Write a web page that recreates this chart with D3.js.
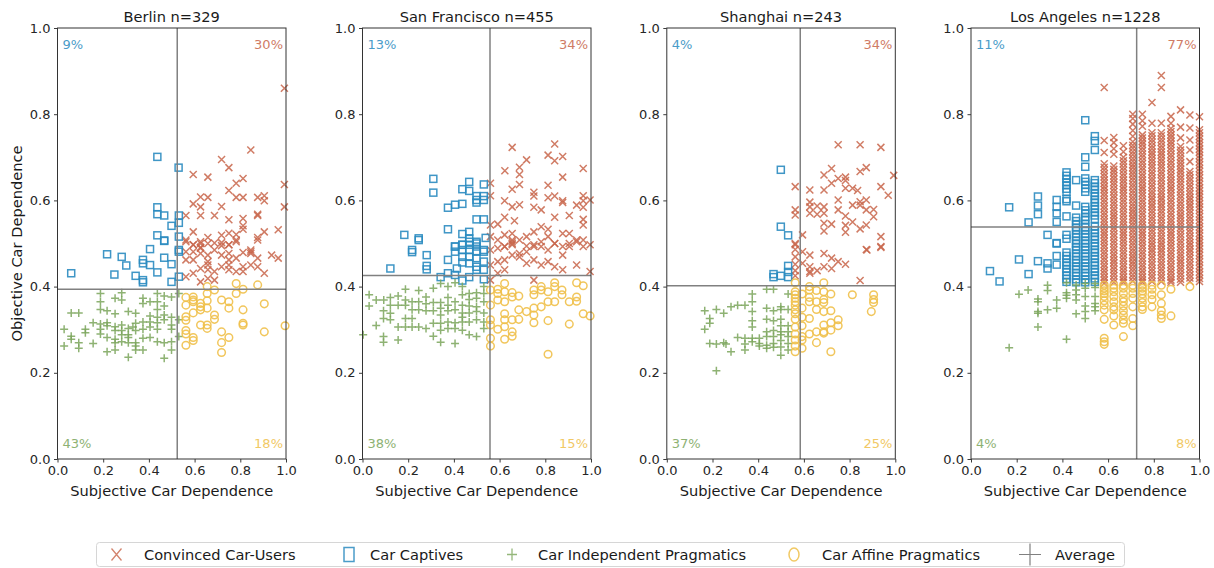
<!DOCTYPE html>
<html>
<head>
<meta charset="utf-8">
<script src="https://cdn.jsdelivr.net/npm/d3@7"></script>
<style>
  body { margin: 0; background: #fff; }
  svg { display: block; font-family: "DejaVu Sans", sans-serif; }
</style>
</head>
<body>
<svg id="chart" width="1214" height="568"></svg>
<script>
// ---- data ----
let cities = ["Berlin", "San Francisco", "Shanghai", "Los Angeles"];
let counts = [329, 455, 243, 1228];
let avgX = [0.524, 0.558, 0.584, 0.725];
let avgY = [0.394, 0.426, 0.402, 0.538];

let shareCaptives = ["9%", "13%", "4%", "11%"];
let shareUsers = ["30%", "34%", "34%", "77%"];
let shareIndependent = ["43%", "38%", "37%", "4%"];
let shareAffine = ["18%", "15%", "25%", "8%"];

let ticks = [0, 0.2, 0.4, 0.6, 0.8, 1.0];
let legendLabels = ["Convinced Car-Users", "Car Captives", "Car Independent Pragmatics", "Car Affine Pragmatics", "Average"];

// Berlin
let berlinUsers = [[.993,.860],[.846,.717],[.718,.695],[.750,.676],[.594,.660],[.658,.654],[.812,.651],[.782,.640],[.750,.623],[.993,.637],[.626,.608],[.658,.607],[.594,.592],[.626,.585],[.718,.586],[.782,.607],[.812,.607],[.876,.607],[.905,.611],[.905,.599],[.993,.585],[.562,.565],[.626,.565],[.687,.565],[.750,.555],[.812,.558],[.812,.541],[.876,.568],[.876,.565],[.812,.533],[.966,.532],[.905,.527],[.594,.527],[.750,.524],[.782,.521],[.718,.519],[.562,.508],[.658,.514],[.782,.508],[.876,.514],[.626,.500],[.687,.501],[.594,.497],[.626,.489],[.718,.495],[.750,.497],[.846,.485],
  [.562,.504],[.594,.497],[.626,.504],[.626,.491],[.658,.500],[.718,.502],[.750,.497],[.782,.504],[.846,.481],[.876,.508],[.562,.481],[.594,.481],[.626,.477],[.658,.473],[.658,.458],[.687,.485],[.718,.473],[.750,.477],[.750,.462],[.782,.466],[.812,.479],[.846,.477],[.876,.466],[.937,.473],[.966,.466],[.562,.462],[.594,.462],[.626,.442],[.658,.450],[.687,.435],[.718,.446],[.750,.450],[.782,.435],[.812,.446],[.846,.450],[.876,.446],[.905,.431],[.626,.411],[.658,.419],[.687,.415],[.562,.423],[.594,.431],[.750,.439],[.812,.435],[.658,.439]];
let berlinCaptives = [[.437,.701],[.530,.676],[.437,.584],[.437,.568],[.467,.565],[.531,.565],[.499,.541],[.531,.548],[.437,.519],[.467,.507],[.531,.516],[.405,.487],[.531,.485],[.467,.506],[.531,.481],[.217,.475],[.281,.469],[.374,.462],[.374,.454],[.301,.449],[.405,.450],[.467,.467],[.499,.452],[.060,.431],[.249,.428],[.342,.425],[.437,.433],[.374,.415],[.374,.410],[.499,.411],[.531,.423]];
let berlinIndependent = [[.188,.384],[.281,.386],[.281,.369],[.252,.373],[.374,.373],[.405,.365],[.437,.384],[.467,.378],[.499,.376],[.531,.384],[.437,.365],[.467,.355],[.437,.347],[.374,.361],[.188,.365],[.188,.347],[.217,.344],[.252,.337],[.310,.342],[.342,.338],[.060,.339],[.093,.339],[.029,.301],[.122,.301],[.122,.293],[.060,.285],[.093,.270],[.029,.262],[.060,.278],[.156,.316],[.188,.313],[.188,.301],[.217,.316],[.217,.309],[.252,.307],[.252,.298],[.281,.311],[.281,.298],[.310,.303],[.310,.282],[.330,.306],[.342,.315],[.342,.298],[.374,.318],[.374,.301],[.405,.332],[.405,.318],[.405,.306],[.437,.329],[.437,.316],[.437,.301],[.467,.334],[.467,.323],[.499,.329],[.499,.311],[.499,.301],[.531,.323],[.188,.290],[.217,.282],[.252,.278],[.252,.270],[.281,.272],[.310,.270],[.342,.270],[.342,.262],[.374,.280],[.405,.282],[.437,.272],[.467,.270],[.499,.272],[.531,.284],[.499,.253],[.467,.234],[.310,.236],[.342,.253],[.374,.253],[.217,.249],[.252,.253],[.156,.268],[.093,.257],[.310,.288],[.281,.288]];
let berlinAffine = [[.655,.400],[.687,.392],[.782,.407],[.812,.394],[.876,.404],[.562,.375],[.594,.376],[.594,.365],[.655,.384],[.655,.367],[.718,.369],[.750,.365],[.782,.384],[.562,.357],[.594,.339],[.626,.353],[.626,.346],[.655,.350],[.687,.334],[.687,.324],[.750,.350],[.812,.346],[.905,.360],[.562,.330],[.562,.322],[.626,.311],[.655,.311],[.655,.303],[.718,.295],[.750,.282],[.812,.315],[.812,.311],[.905,.295],[.996,.309],[.562,.298],[.562,.290],[.594,.282],[.594,.275],[.562,.264],[.718,.270],[.718,.247],[.594,.369],[.626,.361]];

// San Francisco
let sfUsers = [[.841,.731],[.655,.723],[.812,.705],[.841,.692],[.876,.702],[.718,.694],[.687,.677],[.623,.669],[.687,.660],[.966,.674],[.876,.654],[.812,.635],[.687,.637],[.655,.626],[.560,.640],[.560,.611],[.750,.619],[.750,.610],[.812,.606],[.841,.610],[.876,.599],[.876,.595],[.622,.599],[.655,.585],[.687,.590],[.750,.584],[.782,.578],[.966,.611],[.966,.599],[.937,.589],[.966,.584],[.996,.601],[.905,.565],[.841,.561],[.622,.561],[.665,.553],[.560,.543],[.592,.545],[.966,.556],[.966,.543],[.782,.539],[.812,.533],[.750,.527],[.876,.523],[.905,.523],[.937,.508],[.966,.508],[.622,.520],[.655,.523],[.655,.508],[.592,.508],[.560,.516],[.718,.516],[.687,.508],[.782,.504],[.812,.516],[.841,.500],[.876,.493],[.905,.500],[.996,.497],[.622,.493],[.655,.497],[.718,.494],[.750,.493],
  [.560,.485],[.592,.489],[.622,.493],[.655,.500],[.687,.477],[.718,.481],[.750,.497],[.782,.450],[.812,.485],[.841,.500],[.876,.473],[.905,.493],[.937,.450],[.966,.493],[.592,.458],[.622,.462],[.655,.473],[.687,.469],[.718,.454],[.750,.462],[.812,.458],[.841,.446],[.876,.439],[.560,.450],[.592,.431],[.622,.439],[.750,.415],[.560,.415],[.996,.435],[.655,.504],[.782,.493],[.937,.504]];
let sfCaptives = [[.310,.650],[.310,.618],[.467,.643],[.437,.626],[.467,.622],[.531,.637],[.499,.610],[.499,.601],[.531,.610],[.531,.601],[.499,.595],[.374,.583],[.405,.590],[.437,.592],[.499,.556],[.531,.556],[.374,.533],[.183,.520],[.246,.512],[.437,.522],[.467,.527],[.467,.512],[.499,.504],[.467,.497],[.499,.493],[.437,.497],[.405,.493],[.539,.513],[.217,.485],[.531,.485],
  [.246,.508],[.217,.480],[.281,.473],[.281,.448],[.281,.440],[.122,.442],[.374,.462],[.405,.493],[.405,.481],[.437,.497],[.437,.485],[.437,.469],[.437,.456],[.467,.504],[.467,.485],[.467,.469],[.467,.454],[.499,.500],[.499,.481],[.499,.466],[.499,.446],[.531,.481],[.531,.458],[.413,.442],[.374,.431],[.342,.422],[.405,.427],[.437,.414],[.467,.422],[.531,.417],[.499,.439],[.531,.439]];
let sfIndependent = [[.029,.381],[.029,.355],[.060,.369],[.093,.369],[.122,.375],[.122,.357],[.156,.378],[.156,.357],[.188,.394],[.188,.369],[.188,.357],[.217,.365],[.246,.391],[.246,.365],[.246,.346],[.278,.376],[.278,.360],[.278,.344],[.310,.396],[.310,.363],[.310,.344],[.342,.407],[.342,.363],[.342,.350],[.342,.334],[.374,.400],[.374,.375],[.374,.357],[.374,.344],[.405,.409],[.405,.365],[.405,.346],[.437,.400],[.437,.381],[.437,.357],[.437,.339],[.467,.384],[.467,.370],[.467,.355],[.467,.339],[.499,.386],[.499,.373],[.499,.353],[.499,.342],[.531,.400],[.531,.384],[.531,.365],[.531,.339],[.092,.344],[.092,.326],[.122,.323],[.156,.306],[.188,.326],[.217,.326],[.188,.306],[.217,.306],[.246,.306],[.278,.303],[.310,.315],[.342,.315],[.374,.318],[.374,.303],[.405,.316],[.437,.318],[.467,.318],[.499,.323],[.531,.318],[.060,.310],[.310,.285],[.342,.299],[.405,.303],[.437,.299],[.467,.288],[.499,.284],[.092,.284],[.092,.271],[.156,.276],[.342,.271],[.405,.268],[.003,.288],[.122,.338],[.217,.346],[.437,.329],[.531,.303]];
let sfAffine = [[.560,.392],[.592,.394],[.592,.369],[.622,.407],[.622,.388],[.622,.365],[.655,.386],[.684,.378],[.560,.357],[.560,.323],[.560,.311],[.560,.280],[.560,.262],[.592,.301],[.622,.337],[.622,.323],[.622,.307],[.622,.278],[.655,.323],[.655,.295],[.655,.285],[.684,.346],[.684,.324],[.718,.342],[.750,.392],[.750,.381],[.750,.350],[.750,.334],[.750,.316],[.782,.400],[.782,.392],[.782,.353],[.812,.388],[.812,.365],[.812,.321],[.841,.409],[.841,.400],[.841,.365],[.873,.392],[.873,.381],[.905,.365],[.905,.313],[.937,.409],[.937,.376],[.937,.366],[.966,.402],[.966,.337],[.996,.332],[.812,.243],[.592,.384],[.655,.376]];

// Shanghai
let shUsers = [[.750,.729],[.846,.729],[.937,.723],[.721,.674],[.688,.659],[.750,.651],[.782,.654],[.782,.646],[.846,.667],[.873,.676],[.993,.658],[.562,.632],[.626,.624],[.688,.624],[.721,.640],[.782,.628],[.813,.628],[.835,.623],[.937,.632],[.969,.612],[.626,.596],[.626,.585],[.658,.587],[.688,.585],[.626,.570],[.658,.568],[.688,.570],[.562,.578],[.562,.566],[.750,.601],[.750,.578],[.782,.564],[.813,.550],[.813,.589],[.846,.597],[.846,.589],[.873,.601],[.873,.578],[.905,.579],[.905,.562],[.688,.547],[.688,.529],[.721,.545],[.782,.542],[.782,.526],[.846,.534],[.873,.543],[.937,.516],[.937,.493],[.594,.520],[.562,.500],[.873,.486],
  [.562,.497],[.562,.486],[.562,.469],[.562,.452],[.562,.437],[.562,.425],[.594,.481],[.626,.473],[.626,.435],[.626,.446],[.658,.437],[.688,.477],[.688,.446],[.721,.466],[.721,.442],[.750,.458],[.782,.452],[.876,.485],[.937,.491],[.846,.414],[.594,.454],[.626,.431]];
let shCaptives = [[.499,.671],[.499,.539],[.531,.519],[.531,.448],[.531,.434],[.531,.422],[.499,.425],[.467,.429],[.467,.422]];
let shIndependent = [[.374,.383],[.437,.394],[.467,.394],[.531,.383],[.166,.344],[.217,.347],[.249,.338],[.281,.353],[.310,.357],[.342,.357],[.374,.365],[.374,.342],[.437,.350],[.467,.344],[.499,.353],[.499,.347],[.531,.347],[.188,.326],[.188,.315],[.166,.301],[.374,.321],[.374,.306],[.437,.324],[.467,.321],[.499,.324],[.499,.309],[.531,.309],[.467,.298],[.437,.295],[.499,.295],[.531,.295],[.310,.282],[.342,.280],[.374,.280],[.405,.280],[.437,.284],[.467,.284],[.499,.288],[.499,.275],[.531,.284],[.188,.268],[.217,.267],[.249,.270],[.259,.267],[.281,.249],[.342,.267],[.342,.253],[.374,.272],[.405,.268],[.405,.262],[.437,.264],[.437,.257],[.467,.268],[.467,.259],[.499,.260],[.499,.241],[.531,.268],[.531,.253],[.217,.205]];
let shAffine = [[.562,.409],[.562,.388],[.562,.381],[.562,.373],[.562,.365],[.562,.357],[.562,.346],[.562,.337],[.562,.324],[.562,.306],[.562,.290],[.562,.276],[.562,.262],[.562,.249],[.592,.383],[.592,.350],[.592,.329],[.592,.309],[.592,.276],[.592,.257],[.592,.284],[.624,.400],[.624,.392],[.624,.375],[.624,.365],[.624,.326],[.624,.290],[.655,.391],[.655,.365],[.655,.347],[.655,.295],[.655,.270],[.687,.409],[.687,.388],[.687,.370],[.687,.363],[.687,.342],[.687,.311],[.687,.295],[.687,.292],[.718,.383],[.718,.344],[.718,.316],[.718,.299],[.718,.249],[.750,.323],[.750,.309],[.812,.381],[.905,.381],[.905,.370],[.905,.363],[.895,.342]];

// Los Angeles (answers sit on a grid, so kept as columns: [x, [y values]])
let laUserCols = [
  [.583, [.862,.739,.711,.685,.677,.670,.662,.655,.647,.640,.632,.625,.617,.610,.602,.595,.587,.580,.572,.565,.557,.550,.542,.535,.527,.520,.512,.505,.497,.490,.482,.475,.467,.460,.452,.445,.437,.430,.422,.415,.408]],
  [.625, [.746,.734,.720,.707,.680,.672,.665,.657,.650,.642,.635,.627,.620,.612,.605,.597,.590,.582,.575,.567,.560,.552,.545,.537,.530,.522,.515,.507,.500,.492,.485,.477,.470,.462,.455,.447,.440,.432,.425,.417,.410]],
  [.667, [.727,.713,.700,.692,.685,.677,.670,.662,.655,.647,.640,.632,.625,.617,.610,.602,.595,.587,.580,.572,.565,.557,.550,.542,.535,.527,.520,.512,.505,.497,.490,.482,.475,.467,.460,.452,.445,.437,.430,.422,.415,.410]],
  [.708, [.800,.790,.777,.762,.749,.736,.728,.721,.713,.706,.698,.691,.683,.676,.668,.661,.653,.646,.638,.631,.623,.616,.608,.601,.593,.586,.578,.571,.563,.556,.548,.541,.533,.526,.518,.511,.503,.496,.488,.481,.473,.466,.458,.451,.443,.436,.428,.421,.413]],
  [.750, [.800,.785,.772,.752,.745,.737,.730,.722,.715,.707,.700,.692,.685,.677,.670,.662,.655,.647,.640,.632,.625,.617,.610,.602,.595,.587,.580,.572,.565,.557,.550,.542,.535,.527,.520,.512,.505,.497,.490,.482,.475,.467,.460,.452,.445,.437,.430,.422,.415,.410]],
  [.792, [.827,.779,.757,.750,.742,.735,.727,.720,.712,.705,.697,.690,.682,.675,.667,.660,.652,.645,.637,.630,.622,.615,.607,.600,.592,.585,.577,.570,.562,.555,.547,.540,.532,.525,.517,.510,.502,.495,.487,.480,.472,.465,.457,.450,.442,.435,.427,.420,.412]],
  [.833, [.890,.862,.779,.757,.750,.742,.735,.727,.720,.712,.705,.697,.690,.682,.675,.667,.660,.652,.645,.637,.630,.622,.615,.607,.600,.592,.585,.577,.570,.562,.555,.547,.540,.532,.525,.517,.510,.502,.495,.487,.480,.472,.465,.457,.450,.442,.435,.427,.420,.412]],
  [.875, [.795,.779,.767,.760,.752,.745,.737,.730,.722,.715,.707,.700,.692,.685,.677,.670,.662,.655,.647,.640,.632,.625,.617,.610,.602,.595,.587,.580,.572,.565,.557,.550,.542,.535,.527,.520,.512,.505,.497,.490,.482,.475,.467,.460,.452,.445,.437,.430,.422,.415,.410]],
  [.917, [.810,.770,.745,.725,.717,.710,.702,.695,.687,.680,.672,.665,.657,.650,.642,.635,.627,.620,.612,.605,.597,.590,.582,.575,.567,.560,.552,.545,.537,.530,.522,.515,.507,.500,.492,.485,.477,.470,.462,.455,.447,.440,.432,.425,.417,.410]],
  [.958, [.798,.768,.740,.717,.690,.667,.660,.652,.645,.637,.630,.622,.615,.607,.600,.592,.585,.577,.570,.562,.555,.547,.540,.532,.525,.517,.510,.502,.495,.487,.480,.472,.465,.457,.450,.442,.435,.427,.420,.412]],
  [1.0,  [.794,.764,.757,.749,.742,.734,.727,.719,.712,.704,.697,.689,.682,.674,.667,.659,.652,.644,.637,.629,.622,.614,.607,.599,.592,.584,.577,.569,.562,.554,.547,.539,.532,.524,.517,.509,.502,.494,.487,.479,.472,.464,.457,.449,.442,.434,.427,.419,.412]]
];
let laCaptiveCols = [
  [.083, [.436]], [.125, [.412]], [.167, [.584]], [.210, [.463]],
  [.252, [.549,.429]], [.293, [.609,.588,.568,.459]], [.335, [.520,.454,.442]],
  [.375, [.601,.585,.570,.550,.501,.500,.471,.451]],
  [.418, [.665,.657,.650,.642,.635,.627,.620,.603,.598,.563,.520,.511,.479,.471,.464,.456,.449,.441,.434,.426,.418,.411]],
  [.460, [.647,.588,.560,.552,.545,.537,.530,.522,.515,.507,.500,.492,.485,.477,.470,.462,.455,.447,.440,.432,.425,.417,.410]],
  [.500, [.786,.700,.678,.651,.643,.636,.628,.620,.585,.577,.570,.562,.555,.545,.537,.530,.522,.515,.507,.500,.492,.485,.477,.470,.462,.455,.447,.440,.432,.425,.417,.410]],
  [.542, [.749,.738,.717,.647,.640,.632,.625,.617,.610,.602,.595,.587,.580,.572,.565,.557,.539,.531,.524,.516,.509,.501,.494,.486,.479,.471,.464,.456,.449,.441,.434,.426,.419,.411]]
];
let laIndependentCols = [
  [.167, [.258]], [.210, [.382]], [.250, [.392]], [.293, [.371,.365,.342,.338,.306]],
  [.335, [.403,.391,.346]], [.375, [.369,.350]], [.418, [.409,.386,.380,.373,.278]],
  [.460, [.404,.392,.381,.369,.337]], [.500, [.407,.396,.377,.355,.342,.326]],
  [.543, [.407,.398,.377,.361,.353,.344]]
];
let laAffineCols = [
  [.583, [.403,.396,.390,.384,.377,.367,.357,.346,.324,.280,.272,.266]],
  [.625, [.403,.396,.388,.377,.365,.353,.346,.332,.311]],
  [.667, [.403,.396,.384,.373,.365,.355,.344,.334,.323,.315,.284]],
  [.708, [.403,.396,.384,.373,.353,.326,.309]],
  [.750, [.403,.396,.390,.383,.373,.363,.353,.347]],
  [.792, [.403,.394,.381,.370,.353]],
  [.833, [.403,.381,.361,.344,.334,.326]],
  [.875, [.394,.332]],
  [.958, [.400]]
];

// ---- setup ----
let cols = colList => colList.flatMap(c => c[1].map(v => [c[0], v]));

let usersByCity = [berlinUsers, sfUsers, shUsers, cols(laUserCols)];
let captivesByCity = [berlinCaptives, sfCaptives, shCaptives, cols(laCaptiveCols)];
let independentByCity = [berlinIndependent, sfIndependent, shIndependent, cols(laIndependentCols)];
let affineByCity = [berlinAffine, sfAffine, shAffine, cols(laAffineCols)];

let colUsers = "#c8654a";
let colCaptives = "#2a8bc0";
let colIndependent = "#7aa55a";
let colAffine = "#efc04a";
let colAvg = "#808080";

let panelLeft = [57.5, 362.5, 666.8, 971];
let panelW = 228.5;
let plotTop = 28, plotBottom = 459;

let svg = d3.select("#chart");

let xPath = "M-3.5,-3.5L3.5,3.5M-3.5,3.5L3.5,-3.5";
let plusPath = "M-4,0H4M0,-4V4";

let drawPanel = (i) => {
  let x = d3.scaleLinear().domain([0, 1]).range([panelLeft[i], panelLeft[i] + panelW]);
  let y = d3.scaleLinear().domain([0, 1]).range([plotBottom, plotTop]);
  let g = svg.append("g");

  // axes
  g.append("g")
    .attr("transform", `translate(0,${plotBottom})`)
    .call(d3.axisBottom(x).tickValues(ticks).tickFormat(d3.format(".1f")).tickSize(3.5).tickPadding(3.5))
    .call(a => a.select(".domain").remove());
  g.append("g")
    .attr("transform", `translate(${panelLeft[i]},0)`)
    .call(d3.axisLeft(y).tickValues(ticks).tickFormat(d3.format(".1f")).tickSize(3.5).tickPadding(3.5))
    .call(a => a.select(".domain").remove());
  g.selectAll(".tick text").attr("font-size", 13).attr("fill", "#262626").attr("font-family", "DejaVu Sans");
  g.selectAll(".tick line").attr("stroke", "#262626").attr("stroke-width", 0.9);

  // points
  g.append("g").selectAll("path").data(usersByCity[i]).enter().append("path")
    .attr("d", xPath)
    .attr("transform", d => `translate(${x(d[0])},${y(d[1])})`)
    .attr("stroke", colUsers).attr("stroke-width", 1.5).attr("fill", "none").attr("opacity", 0.85);
  g.append("g").selectAll("rect").data(captivesByCity[i]).enter().append("rect")
    .attr("x", d => x(d[0]) - 3.5).attr("y", d => y(d[1]) - 3.5)
    .attr("width", 7).attr("height", 7)
    .attr("stroke", colCaptives).attr("stroke-width", 1.5).attr("fill", "none").attr("opacity", 0.9);
  g.append("g").selectAll("path").data(independentByCity[i]).enter().append("path")
    .attr("d", plusPath)
    .attr("transform", d => `translate(${x(d[0])},${y(d[1])})`)
    .attr("stroke", colIndependent).attr("stroke-width", 1.5).attr("fill", "none").attr("opacity", 0.85);
  g.append("g").selectAll("circle").data(affineByCity[i]).enter().append("circle")
    .attr("cx", d => x(d[0])).attr("cy", d => y(d[1])).attr("r", 3.8)
    .attr("stroke", colAffine).attr("stroke-width", 1.5).attr("fill", "none").attr("opacity", 0.9);

  // average lines
  g.append("line")
    .attr("x1", x(avgX[i])).attr("x2", x(avgX[i])).attr("y1", y(0)).attr("y2", y(1))
    .attr("stroke", colAvg).attr("stroke-width", 1.5);
  g.append("line")
    .attr("x1", x(0)).attr("x2", x(1)).attr("y1", y(avgY[i])).attr("y2", y(avgY[i]))
    .attr("stroke", colAvg).attr("stroke-width", 1.5);

  // frame
  g.append("rect")
    .attr("x", x(0)).attr("y", y(1)).attr("width", x(1) - x(0)).attr("height", y(0) - y(1))
    .attr("fill", "none").attr("stroke", "#333").attr("stroke-width", 1);

  // quadrant shares
  let pct = (txt, px, py, anchor, color) => g.append("text")
    .attr("x", px).attr("y", py).attr("text-anchor", anchor).attr("dy", "0.35em")
    .attr("font-size", 13).attr("fill", color).attr("opacity", 0.85).text(txt);
  pct(shareCaptives[i], x(0) + 5, 44.5, "start", colCaptives);
  pct(shareUsers[i], x(1) - 3, 44.5, "end", colUsers);
  pct(shareIndependent[i], x(0) + 5, 443.5, "start", colIndependent);
  pct(shareAffine[i], x(1) - 3, 443.5, "end", colAffine);

  // titles and labels
  g.append("text").attr("x", (x(0) + x(1)) / 2).attr("y", 17).attr("dy", "0.35em")
    .attr("text-anchor", "middle").attr("font-size", 14.6).attr("fill", "#1a1a1a")
    .text(`${cities[i]} n=${counts[i]}`);
  g.append("text").attr("x", (x(0) + x(1)) / 2).attr("y", 490.5).attr("dy", "0.35em")
    .attr("text-anchor", "middle").attr("font-size", 14.6).attr("fill", "#1a1a1a")
    .text("Subjective Car Dependence");
};

[0, 1, 2, 3].forEach(drawPanel);

svg.append("text")
  .attr("transform", `translate(17,${(plotTop + plotBottom) / 2}) rotate(-90)`)
  .attr("dy", "0.35em").attr("text-anchor", "middle").attr("font-size", 14.6).attr("fill", "#1a1a1a")
  .text("Objective Car Dependence");

// legend
let legend = svg.append("g");
legend.append("rect")
  .attr("x", 96.5).attr("y", 542.5).attr("width", 1028).attr("height", 24).attr("rx", 3)
  .attr("fill", "#fff").attr("stroke", "#d6d6d6").attr("stroke-width", 1);
let legendMarkX = [116.5, 349, 512, 794, 1030];
let legendTextX = [144, 370, 538, 822, 1055];
let ly = 554.5;
legend.append("path").attr("d", "M-5,-6L5,6M-5,6L5,-6").attr("transform", `translate(${legendMarkX[0]},${ly})`)
  .attr("stroke", colUsers).attr("stroke-width", 1.3).attr("fill", "none").attr("opacity", 0.8);
legend.append("rect").attr("x", legendMarkX[1] - 5).attr("y", ly - 7).attr("width", 10).attr("height", 14)
  .attr("stroke", colCaptives).attr("stroke-width", 1.5).attr("fill", "none").attr("opacity", 0.85);
legend.append("path").attr("d", "M-5,0H5M0,-6V6").attr("transform", `translate(${legendMarkX[2]},${ly})`)
  .attr("stroke", colIndependent).attr("stroke-width", 1.3).attr("fill", "none").attr("opacity", 0.8);
legend.append("ellipse").attr("cx", legendMarkX[3]).attr("cy", ly).attr("rx", 5).attr("ry", 6.5)
  .attr("stroke", colAffine).attr("stroke-width", 1.5).attr("fill", "none").attr("opacity", 0.85);
legend.append("path").attr("d", "M-11,0H11M0,-11V11").attr("transform", `translate(${legendMarkX[4]},${ly})`)
  .attr("stroke", colAvg).attr("stroke-width", 1.2).attr("fill", "none");
legendLabels.forEach((t, k) => {
  legend.append("text").attr("x", legendTextX[k]).attr("y", ly).attr("dy", "0.35em")
    .attr("font-size", 14.6).attr("fill", "#1a1a1a").text(t);
});
</script>
</body>
</html>
